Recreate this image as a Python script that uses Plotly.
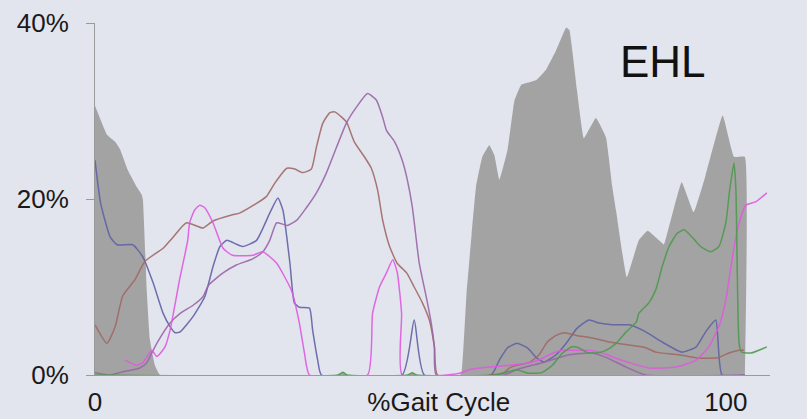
import plotly.graph_objects as go

# EMG envelope (gray) and individual muscle activity traces, % of max, vs % gait cycle
env_x = [0, 1.9, 3.2, 4.0, 5.2, 6.6, 7.4, 7.6, 8.2, 8.7, 9.5, 10.3, 38.5, 39.3, 40.0,
         49.5, 50.3, 51.0, 57.8, 58.1, 58.9, 59.7, 60.4, 61.4, 62.5, 63.3, 64.1, 65.4,
         66.5, 67.6, 69.9, 71.5, 73.1, 74.7, 75.2, 76.4, 77.5, 79.4, 81.0, 82.0, 82.6,
         84.3, 86.2, 87.6, 89.9, 90.2, 93.0, 94.9, 96.8, 99.5, 101.3, 103.0, 103.01]
env_y = [30.6, 27.3, 26.5, 25.6, 23.3, 21.4, 20.5, 19.9, 9.7, 4.0, 1.1, 0, 0, 0.3, 0,
         0, 0.25, 0, 0, 0.2, 9.3, 16.0, 21.4, 24.8, 26.1, 25.0, 22.2, 25.6,
         31.2, 33.0, 33.5, 34.7, 36.9, 39.5, 39.2, 32.4, 26.9, 29.2, 27.0, 21.4, 18.7,
         11.1, 15.3, 16.4, 15.0, 14.8, 21.9, 18.5, 22.7, 29.5, 24.8, 24.8, 0]

blue_x = [0, 0.9, 2.4, 3.5, 6.0, 7.6, 9.2, 10.8, 11.9, 12.7, 13.5, 15.5, 17.4, 18.7,
          19.8, 20.9, 23.4, 25.6, 27.7, 29.0, 29.8, 30.9, 31.6, 32.4, 34.0, 34.5, 35.3,
          35.9, 48.7, 50.6, 52.2, 62.8, 64.1, 65.4, 66.9, 68.5, 70.1, 71.2, 73.1, 74.7,
          76.4, 78.3, 79.9, 82.0, 84.7, 87.3, 89.9, 93.0, 95.3, 96.8, 98.4, 99.4, 103.0]
blue_y = [24.4, 19.5, 15.7, 14.8, 14.8, 13.4, 10.5, 7.0, 5.5, 4.8, 4.9, 6.6, 8.9, 12.3,
          14.6, 15.3, 14.6, 15.3, 18.4, 20.1, 18.7, 12.7, 8.2, 7.7, 7.6, 5.1, 1.7,
          0, 0, 6.25, 0, 0, 1.7, 3.1, 3.6, 3.1, 1.9, 1.5, 2.3, 3.6,
          5.3, 6.25, 5.9, 5.7, 5.7, 4.9, 3.75, 2.6, 3.2, 4.9, 6.25, 0, 0]

brown_x = [0, 1.9, 3.2, 4.4, 6.3, 7.9, 9.8, 10.8, 12.3, 14.5, 17.1, 18.7, 21.8, 22.9,
           25.6, 27.2, 28.5, 30.4, 31.7, 32.9, 34.3, 35.1, 36.1, 37.2, 38.0, 39.1, 39.9,
           41.1, 42.7, 43.8, 44.8, 45.6, 46.7, 47.9, 49.4, 50.6, 51.9, 53.0, 53.8, 54.3,
           62.8, 64.9, 65.7, 66.8, 68.8, 70.4, 71.7, 73.1, 74.4, 76.3, 78.8, 81.5, 84.7,
           87.3, 88.9, 92.6, 95.7, 98.9, 100.5, 102.1, 102.9]
brown_y = [5.7, 3.6, 5.5, 9.0, 10.8, 12.9, 13.9, 14.4, 15.6, 17.3, 16.7, 17.5, 18.2, 18.4,
           19.5, 20.3, 21.8, 23.5, 23.4, 23.0, 23.4, 25.9, 28.6, 29.8, 29.9, 29.3, 28.7,
           26.5, 24.8, 23.5, 21.0, 17.6, 14.6, 12.7, 11.6, 10.0, 8.2, 6.25, 3.2, 0,
           0, 0.3, 0.8, 1.1, 1.4, 2.3, 3.75, 4.5, 4.8, 4.5, 4.2, 3.75, 3.4,
           3.1, 2.6, 2.3, 1.9, 2.0, 2.5, 2.8, 2.8]

purple_x = [0, 2.4, 4.0, 7.1, 8.2, 9.0, 9.8, 11.9, 13.5, 15.5, 17.1, 18.0, 20.3, 22.4,
            25.0, 26.6, 27.7, 28.8, 30.5, 32.0, 33.5, 35.1, 36.7, 38.3, 39.9, 41.5, 43.2,
            44.6, 45.6, 46.2, 47.5, 48.7, 49.5, 50.3, 51.4, 52.5, 53.3, 53.8, 54.1,
            64.9, 66.8, 70.9, 75.2, 78.8, 81.0, 84.2, 87.3, 103.0]
purple_y = [0.3, 0, 0.3, 0.8, 1.4, 2.5, 3.6, 5.9, 7.0, 7.9, 8.9, 10.2, 11.6, 12.5,
            13.2, 14.0, 15.3, 17.3, 17.0, 17.6, 19.0, 20.7, 23.0, 25.9, 28.7, 30.5, 32.0,
            31.25, 29.3, 27.8, 26.5, 24.4, 22.2, 19.1, 12.7, 8.9, 5.9, 3.2, 0,
            0, 0.6, 1.4, 2.3, 2.5, 2.0, 0.9, 0, 0]

magenta_x = [4.75, 6.6, 7.6, 9.0, 9.8, 11.1, 11.9, 13.4, 14.7, 15.0, 15.8, 16.6, 17.4,
             18.7, 20.3, 21.8, 25.0, 26.6, 28.8, 30.9, 31.3, 32.4, 33.2, 34.0, 43.2,
             44.0, 45.1, 46.2, 47.2, 47.9, 48.6, 48.7, 57.8, 59.3, 62.5, 65.7, 68.8,
             70.4, 72.0, 74.1, 76.3, 78.3, 80.4, 82.6, 84.7, 87.8, 92.1, 95.3, 97.3,
             98.9, 100.0, 100.8, 101.6, 102.4, 103.2, 104.8, 106.5]
magenta_y = [1.7, 1.1, 1.4, 2.8, 2.1, 3.2, 5.1, 10.8, 15.3, 17.3, 18.75, 19.3, 19.0,
             17.3, 14.4, 13.6, 13.6, 14.0, 12.7, 10.0, 9.3, 5.9, 2.5, 0, 0,
             7.0, 10.0, 11.6, 13.1, 11.7, 7.0, 0, 0.2, 0.6, 0.9, 1.1, 1.4,
             1.7, 2.3, 2.8, 2.8, 2.8, 2.5, 1.9, 1.4, 0.8, 0.9, 1.7, 3.2,
             5.5, 8.5, 12.3, 15.7, 18.0, 19.3, 19.7, 20.7]

green_x = [0, 38.5, 39.3, 40.0, 49.5, 50.3, 51.0, 63.6, 66.8, 68.8, 70.9, 72.5, 74.1,
           75.6, 76.7, 77.9, 79.4, 81.0, 82.6, 84.2, 85.8, 86.2, 87.8, 88.9, 89.9, 91.0,
           92.3, 93.4, 94.6, 96.0, 97.6, 98.9, 100.0, 100.6, 101.3, 101.6, 102.1, 102.5,
           104.0, 106.5]
green_y = [0, 0, 0.3, 0, 0, 0.25, 0, 0, 0.6, 0.2, 0.3, 1.1, 2.5,
           3.2, 3.1, 2.6, 2.5, 2.8, 3.6, 4.9, 6.0, 7.0, 8.2, 9.7, 12.3, 14.6,
           16.1, 16.5, 15.7, 14.6, 14.0, 14.6, 17.3, 21.0, 24.1, 21.0, 3.6, 2.6,
           2.5, 3.2]

x_tick_vals = [0, 54.5, 100]
x_tick_text = ["0", "%Gait Cycle", "100"]
y_tick_vals = [0, 20, 40]
y_tick_text = ["0%", "20%", "40%"]

BG = "rgb(226,229,238)"
AXIS = "#9a9a9a"
FONT = "Liberation Sans, Arial, sans-serif"

fig = go.Figure()

fig.add_trace(go.Scatter(
    x=env_x, y=env_y, mode="lines", fill="tozeroy",
    fillcolor="#a3a3a3", line=dict(width=0, color="#a3a3a3", shape="spline", smoothing=0.3),
    hoverinfo="skip",
))

series = [
    (blue_x, blue_y, "#6262a6"),
    (brown_x, brown_y, "#a06a66"),
    (purple_x, purple_y, "#9a66a8"),
    (magenta_x, magenta_y, "#e05ae0"),
    (green_x, green_y, "#4f9a4f"),
]
for xs, ys, col in series:
    fig.add_trace(go.Scatter(
        x=xs, y=ys, mode="lines",
        line=dict(color=col, width=1.5, shape="spline", smoothing=0.5),
        opacity=0.9, hoverinfo="skip",
    ))

fig.add_annotation(
    x=90, y=35.6, xref="x", yref="y", text="EHL", showarrow=False,
    font=dict(family=FONT, size=44, color="#111111"),
)

fig.update_layout(
    width=807, height=419,
    margin=dict(l=95, r=37, t=23, b=44),
    paper_bgcolor=BG, plot_bgcolor=BG,
    showlegend=False,
    font=dict(family=FONT, size=26, color="#1a1a1a"),
)
fig.update_xaxes(
    range=[0, 107], tickvals=x_tick_vals, ticktext=x_tick_text,
    showgrid=False, zeroline=False, showline=True, linecolor=AXIS, linewidth=1,
    ticks="", ticklabelstandoff=4, automargin=False,
)
fig.update_yaxes(
    range=[0, 40], tickvals=y_tick_vals, ticktext=y_tick_text,
    showgrid=False, zeroline=False, showline=True, linecolor=AXIS, linewidth=1,
    ticks="outside", ticklen=8, tickcolor=AXIS, ticklabelstandoff=12, automargin=False,
)

fig.write_html("out.html")
